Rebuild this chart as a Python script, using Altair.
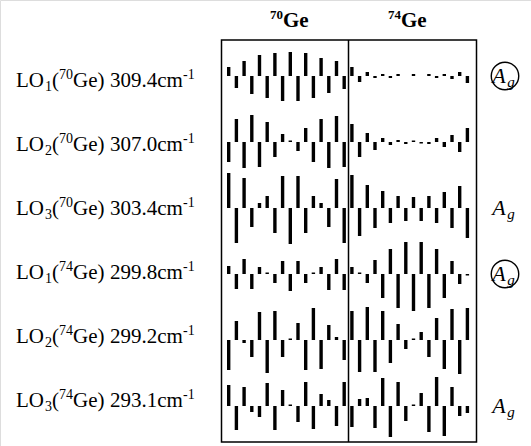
import altair as alt
import pandas as pd

# ---- data ----
mode_name = ["LO", "LO", "LO", "LO", "LO", "LO"]
mode_index = ["1", "2", "3", "1", "2", "3"]
mode_isotope = ["70", "70", "70", "74", "74", "74"]
mode_freq = ["309.4", "307.0", "303.4", "299.8", "299.2", "293.1"]
layer_isotopes = ["70", "74"]

# displacement amplitudes (positive = up), 16 atoms per layer
ge70_lo1_70 = [9, -12, 15, -18, 21, -22, 23, -25, 24, -25, 23, -22, 18, -17, 15, -13]
ge74_lo1_70 = [9, -6, 4, -2, 2, -2, 2, 0, 2, 0, 2, -2, 2, -3, 4, -7]
ge70_lo2_70 = [-20, 23, -26, 27, -25, 20, -15, 8, 1.5, -9, 14, -20, 23, -26, 26, -25]
ge74_lo2_70 = [18, -15, 9, -8, 4, -3, 2, -2, 1.5, -1.5, -2, 4, -5, 7, -10, 14]
ge70_lo3_70 = [35, -35, 30, -19, 5, 12, -25, 32, -36, 32, -25, 12, 5, -19, 29, -35]
ge74_lo3_70 = [33, -28, 23, -20, 17, -15, 12, -13, 11, -13, 12, -15, 16, -20, 22, -30]
ge70_lo1_74 = [8, -15, 15, -15, 7, 1.5, -9, 13, -17, 13, -9, 1.5, 7, -16, 15, -16]
ge74_lo1_74 = [7, 1.5, -9, 14, -24, 25, -34, 32, -37, 32, -34, 25, -24, 13, -10, -1.5]
ge70_lo2_74 = [-30, 19, -3, -17, 28, -33, 29, -17, 1.5, 17, -30, 32, -29, 15, 3, -20]
ge74_lo2_74 = [29, -32, 33, -32, 29, -23, 16, -9, 1.5, 8, -17, 22, -29, 31, -34, 32]
ge70_lo3_74 = [21, -24, 19, -6, -11, 23, -24, 16, 1.5, -16, 24, -23, 12, 6, -20, 24]
ge74_lo3_74 = [-21, 7, 8, -22, 28, -31, 24, -15, 1.5, 13, -26, 29, -30, 19, -10, -7]

ge70 = [ge70_lo1_70, ge70_lo2_70, ge70_lo3_70, ge70_lo1_74, ge70_lo2_74, ge70_lo3_74]
ge74 = [ge74_lo1_70, ge74_lo2_70, ge74_lo3_70, ge74_lo1_74, ge74_lo2_74, ge74_lo3_74]

ag_rows = [0, 2, 3, 5]
ag_circled = [True, False, True, False]

# ---- layout ----
ROW0, ROWSTEP = 76, 66          # bar baselines
LAB0, LABSTEP = 87, 64          # label text baselines
FONT = "Liberation Serif"

rows = []
for r in range(6):
    vals = ge70[r] + ge74[r]
    for i, v in enumerate(vals):
        rows.append({"row": r, "pos": i, "amp": v})
df = pd.DataFrame(rows)
df["base"] = ROW0 + ROWSTEP * df["row"]
df["tip"] = df["base"] - df["amp"]
df["x0"] = df["pos"] - 0.22
df["x1"] = df["pos"] + 0.22

xs = alt.Scale(domain=[-29.70, 39.26])
ys = alt.Scale(domain=[0, 446], reverse=True)

bars = alt.Chart(df).mark_rect(color="black").encode(
    x=alt.X("x0:Q", scale=xs, axis=None),
    x2="x1:Q",
    y=alt.Y("base:Q", scale=ys, axis=None),
    y2="tip:Q",
)

lab = pd.DataFrame({
    "name": mode_name,
    "idx": mode_index,
    "iso": mode_isotope,
    "freq": [f + "cm" for f in mode_freq],
    "row": list(range(6)),
})
lab["ly"] = LAB0 + LABSTEP * lab["row"]
lab["open"] = "("
lab["ge"] = "Ge)"
lab["inv"] = "-1"


def piece(field, x, size, dy=0):
    return alt.Chart(lab).mark_text(
        align="left", baseline="alphabetic", font=FONT, fontSize=size, color="black", dy=dy
    ).encode(x=alt.value(x), y=alt.Y("ly:Q", scale=ys, axis=None), text=f"{field}:N")


label_layers = [
    piece("name", 16, 21),
    piece("idx", 45, 14, 4),
    piece("open", 52, 21),
    piece("iso", 59, 14, -8),
    piece("ge", 73, 21),
    piece("freq", 110, 21),
    piece("inv", 183, 14, -8),
]

ag = pd.DataFrame({"row": ag_rows, "circ": ag_circled})
ag["ay"] = ROW0 + ROWSTEP * ag["row"]
A_text = alt.Chart(ag).mark_text(
    align="center", baseline="middle", font=FONT, fontStyle="italic",
    fontSize=22, color="black"
).encode(x=alt.value(499), y=alt.Y("ay:Q", scale=ys, axis=None), text=alt.value("A"))
g_text = alt.Chart(ag).mark_text(
    align="center", baseline="middle", font=FONT, fontStyle="italic",
    fontSize=15, color="black", dy=6
).encode(x=alt.value(511), y=alt.Y("ay:Q", scale=ys, axis=None), text=alt.value("g"))
circles = alt.Chart(ag[ag["circ"]]).mark_point(
    shape="circle", size=755, filled=False, stroke="black", strokeWidth=1.4, opacity=1
).encode(x=alt.value(505), y=alt.Y("ay:Q", scale=ys, axis=None))

one = pd.DataFrame({"a": [0]})
frame = alt.Chart(one).mark_rect(fill="transparent", stroke="black", strokeWidth=1.5).encode(
    x=alt.value(221.5), x2=alt.value(476.5), y=alt.value(40), y2=alt.value(442)
)
divider = alt.Chart(one).mark_rule(color="black", strokeWidth=1.5).encode(
    x=alt.value(348.5), y=alt.value(40), y2=alt.value(442)
)

tt = pd.DataFrame({"iso": layer_isotopes, "ge": ["Ge", "Ge"], "tx": [283, 401]})
pxs = alt.Scale(domain=[0, 531])
title_iso = alt.Chart(tt).mark_text(
    align="right", baseline="alphabetic", font=FONT, fontWeight="bold",
    fontSize=13, color="black", dy=-8
).encode(x=alt.X("tx:Q", scale=pxs, axis=None), y=alt.value(27), text="iso:N")
title_ge = alt.Chart(tt).mark_text(
    align="left", baseline="alphabetic", font=FONT, fontWeight="bold",
    fontSize=21, color="black"
).encode(x=alt.X("tx:Q", scale=pxs, axis=None), y=alt.value(27), text="ge:N")

chart = alt.layer(
    frame, divider, bars, *label_layers, A_text, g_text, circles, title_iso, title_ge
).resolve_scale(x="independent").properties(
    width=531, height=446, padding=0, autosize=alt.AutoSizeParams(type="none")
).configure_view(strokeWidth=0).configure(background="white")

chart.save("out.html", embed_options={"renderer": "svg", "actions": False})
